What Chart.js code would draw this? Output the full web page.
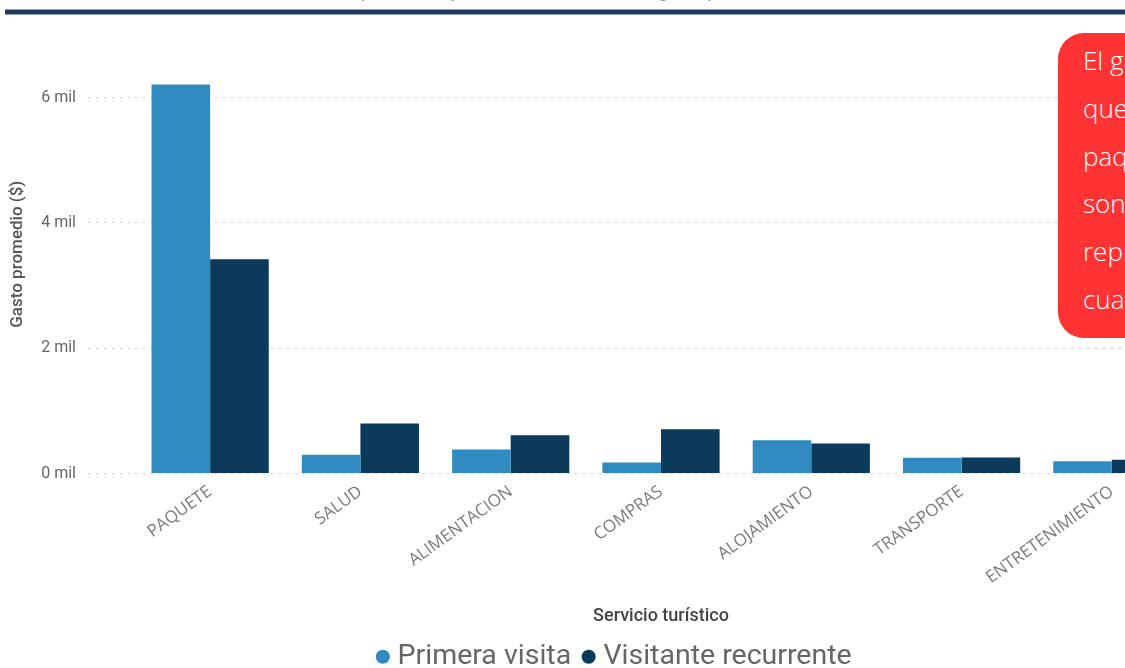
<!DOCTYPE html>
<html>
<head>
<meta charset="utf-8">
<script src="https://cdn.jsdelivr.net/npm/chart.js@4.4.1/dist/chart.umd.min.js"></script>
<style>
  html, body { margin: 0; padding: 0; width: 1125px; height: 668px; overflow: hidden; background: #fff; }
  #wrap { position: absolute; left: 0; top: 0; width: 1234px; height: 668px; }
  #title { position: absolute; left: 120px; top: -22px; width: 900px; text-align: center; font: 20px "Roboto", sans-serif; color: #999; white-space: nowrap; }
  #rule { position: absolute; left: 5px; top: 9px; width: 1130px; height: 6px; background: #1f3a60; border-top: 1px solid #8fa3bd; border-bottom: 1px solid #8fa3bd; box-sizing: border-box; }
  #callout { position: absolute; left: 1058px; top: 33px; width: 320px; height: 305px; background: #ff3333; border-radius: 26px; box-sizing: border-box; padding: 4px 0 0 25px; color: #fff; font: 300 26px "Open Sans", sans-serif; line-height: 47.8px; white-space: nowrap; }
</style>
</head>
<body>
<div id="wrap"><canvas id="c" width="1234" height="668"></canvas></div>
<div id="title">Gasto promedio por servicio turístico según tipo de visitante</div>
<div id="rule"></div>
<div id="callout">
  <div>El gasto promedio</div>
  <div>que realizan los</div>
  <div>paquetes turísticos</div>
  <div>son los que más</div>
  <div>representan en</div>
  <div>cuanto a gasto</div>
</div>
<script>
const categories = ["PAQUETE", "SALUD", "ALIMENTACION", "COMPRAS", "ALOJAMIENTO", "TRANSPORTE", "ENTRETENIMIENTO"];
const primeraVisita = [6210, 300, 385, 175, 530, 250, 195];
const visitanteRecurrente = [3420, 800, 610, 705, 480, 255, 220];
const yTicks = [0, 2000, 4000, 6000];
const seriesNames = ["Primera visita", "Visitante recurrente"];
const colors = ["#318bc0", "#0c3a5a"];

new Chart(document.getElementById("c"), {
  type: "bar",
  data: {
    labels: categories,
    datasets: [
      { label: seriesNames[0], data: primeraVisita, backgroundColor: colors[0], categoryPercentage: 0.78, barPercentage: 1.0 },
      { label: seriesNames[1], data: visitanteRecurrente, backgroundColor: colors[1], categoryPercentage: 0.78, barPercentage: 1.0 }
    ]
  },
  options: {
    responsive: false,
    animation: false,
    layout: { padding: { top: 35, right: 0, left: 0, bottom: -13 } },
    plugins: {
      tooltip: { enabled: false },
      legend: {
        position: "bottom",
        labels: {
          usePointStyle: true,
          pointStyle: "circle",
          boxWidth: 1,
          boxHeight: 10,
          padding: 17,
          color: "#666",
          font: { family: "Roboto", size: 28.5 }
        }
      }
    },
    scales: {
      x: {
        grid: { display: false },
        border: { display: false },
        ticks: {
          minRotation: 36, maxRotation: 36, autoSkip: false,
          color: "#7a7a7a", padding: 0,
          font: { family: "Open Sans", size: 17 }
        },
        title: {
          display: true, text: "Servicio turístico", color: "#444",
          font: { family: "Roboto", size: 18, weight: "500" },
          padding: { top: 0, bottom: -2 }
        },
        afterFit: (s) => { s.height = 152; }
      },
      y: {
        min: 0, max: 7000,
        afterBuildTicks: (s) => { s.ticks = yTicks.map(v => ({ value: v })); },
        grid: {
          color: "#c9c9c9", lineWidth: 1,
          tickBorderDash: [2, 6],
          tickColor: "#c9c9c9",
          drawTicks: true, tickLength: 47
        },
        border: { display: false, dash: [2, 6] },
        ticks: {
          color: "#666", padding: 12,
          font: { family: "Roboto", size: 16 },
          callback: (v) => (v / 1000) + " mil"
        },
        title: {
          display: true, text: "Gasto promedio ($)", color: "#555",
          font: { family: "Roboto", size: 17, weight: "500" },
          padding: { top: 8, bottom: 0 }
        },
        afterFit: (s) => { s.width = 135; }
      },
      yRight: {
        position: "right",
        display: true,
        grid: { display: false, drawTicks: false },
        border: { display: false },
        ticks: { display: false },
        afterFit: (s) => { s.width = 47; }
      }
    }
  }
});
</script>
</body>
</html>
